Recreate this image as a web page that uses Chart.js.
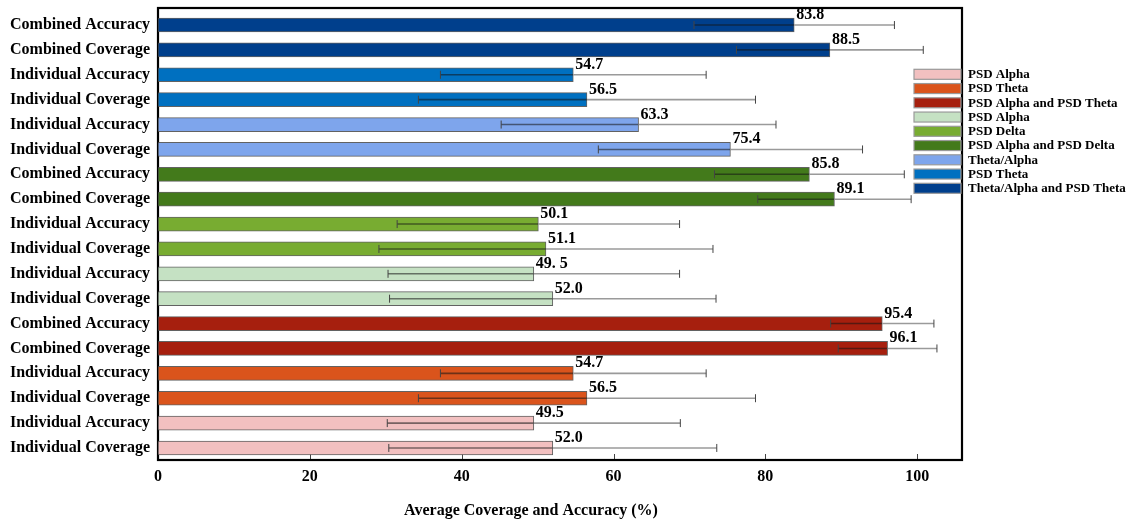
<!DOCTYPE html>
<html>
<head>
<meta charset="utf-8">
<script src="https://cdn.jsdelivr.net/npm/chart.js@4.4.0/dist/chart.umd.min.js"></script>
<style>
  body { margin: 0; background: #fff; }
  #wrap { width: 1140px; height: 520px; }
</style>
</head>
<body>
<div id="wrap"><canvas id="chart" width="1140" height="520"></canvas></div>
<script>
// bars listed top to bottom
const categories = [
  'Combined Accuracy', 'Combined Coverage', 'Individual Accuracy', 'Individual Coverage',
  'Individual Accuracy', 'Individual Coverage', 'Combined Accuracy', 'Combined Coverage',
  'Individual Accuracy', 'Individual Coverage', 'Individual Accuracy', 'Individual Coverage',
  'Combined Accuracy', 'Combined Coverage', 'Individual Accuracy', 'Individual Coverage',
  'Individual Accuracy', 'Individual Coverage'
];
const values = [83.8, 88.5, 54.7, 56.5, 63.3, 75.4, 85.8, 89.1, 50.1, 51.1, 49.5, 52.0, 95.4, 96.1, 54.7, 56.5, 49.5, 52.0];
const errors = [13.2, 12.3, 17.5, 22.2, 18.1, 17.4, 12.5, 10.1, 18.6, 22.0, 19.2, 21.5, 6.8, 6.5, 17.5, 22.2, 19.3, 21.6];
const valueLabels = ['83.8', '88.5', '54.7', '56.5', '63.3', '75.4', '85.8', '89.1', '50.1', '51.1', '49. 5', '52.0', '95.4', '96.1', '54.7', '56.5', '49.5', '52.0'];
const barSeries = [8, 8, 7, 7, 6, 6, 5, 5, 4, 4, 3, 3, 2, 2, 1, 1, 0, 0];

// legend order
const seriesNames = [
  'PSD Alpha', 'PSD Theta', 'PSD Alpha and PSD Theta',
  'PSD Alpha', 'PSD Delta', 'PSD Alpha and PSD Delta',
  'Theta/Alpha', 'PSD Theta', 'Theta/Alpha and PSD Theta'
];
const seriesColors = ['#f2c0c0', '#da541c', '#a61f0e', '#c5e1c3', '#78ac31', '#437a1b', '#7ea5ec', '#0070c0', '#003f8c'];

const xTicks = [0, 20, 40, 60, 80, 100];

const FONT = "'Liberation Serif', 'Times New Roman', serif";

const datasets = seriesNames.map((name, s) => ({
  label: name,
  data: values.map((v, i) => barSeries[i] === s ? v : null),
  backgroundColor: seriesColors[s],
  borderColor: 'rgba(70,70,70,0.85)',
  borderWidth: 1,
  borderSkipped: false,
  barThickness: 14,
  grouped: false
}));

const decorations = {
  id: 'decorations',
  beforeDatasetsDraw(chart) {
    const ctx = chart.ctx;
    const xs = chart.scales.x;
    const area = chart.chartArea;
    const top = 8, bottom = 460;
    ctx.save();

    // tick marks inside the frame
    ctx.strokeStyle = '#444';
    ctx.lineWidth = 1;
    xTicks.forEach(t => {
      const x = Math.round(xs.getPixelForValue(t)) + 0.5;
      ctx.beginPath(); ctx.moveTo(x, bottom); ctx.lineTo(x, bottom - 6); ctx.stroke();
    });

    // frame
    ctx.strokeStyle = '#000';
    ctx.lineWidth = 2.2;
    ctx.strokeRect(area.left, top, area.right - area.left, bottom - top);
    ctx.restore();
  },
  afterDatasetsDraw(chart) {
    const ctx = chart.ctx;
    const xs = chart.scales.x;

    // error bars: darker where they cross the bar, grey outside
    chart.data.datasets.forEach((ds, di) => {
      const meta = chart.getDatasetMeta(di);
      ds.data.forEach((v, i) => {
        if (v === null) return;
        const el = meta.data[i];
        const y = el.y;
        const xl = xs.getPixelForValue(v - errors[i]);
        const xr = xs.getPixelForValue(v + errors[i]);
        const xv = xs.getPixelForValue(v);
        ctx.save();
        ctx.lineWidth = 1.6;
        ctx.strokeStyle = 'rgba(20,20,20,0.55)';
        ctx.beginPath(); ctx.moveTo(xl, y); ctx.lineTo(xv, y); ctx.stroke();
        ctx.strokeStyle = '#9a9a9a';
        ctx.beginPath(); ctx.moveTo(xv, y); ctx.lineTo(xr, y); ctx.stroke();
        ctx.lineWidth = 1;
        ctx.strokeStyle = '#444';
        ctx.beginPath();
        ctx.moveTo(xl, y - 4); ctx.lineTo(xl, y + 4);
        ctx.moveTo(xr, y - 4); ctx.lineTo(xr, y + 4);
        ctx.stroke();

        ctx.fillStyle = '#000';
        ctx.font = 'bold 16px ' + FONT;
        ctx.textAlign = 'left';
        ctx.textBaseline = 'alphabetic';
        ctx.fillText(valueLabels[i], xv + 2, y - 6);
        ctx.restore();
      });
    });
  },
  afterDraw(chart) {
    const ctx = chart.ctx;
    ctx.save();

    // legend
    ctx.font = 'bold 13px ' + FONT;
    ctx.textAlign = 'left';
    ctx.textBaseline = 'middle';
    seriesNames.forEach((name, s) => {
      const y = 69.3 + s * 14.25;
      ctx.fillStyle = seriesColors[s];
      ctx.fillRect(914, y, 47, 10);
      ctx.strokeStyle = '#9a9a9a';
      ctx.lineWidth = 1.2;
      ctx.strokeRect(914, y, 47, 10);
      ctx.fillStyle = '#000';
      ctx.fillText(name, 968, y + 5.5);
    });

    // axis title
    ctx.font = 'bold 16px ' + FONT;
    ctx.textAlign = 'center';
    ctx.fillText('Average Coverage and Accuracy (%)', 531, 511);
    ctx.restore();
  }
};

new Chart(document.getElementById('chart').getContext('2d'), {
  type: 'bar',
  data: { labels: categories, datasets: datasets },
  options: {
    indexAxis: 'y',
    responsive: false,
    maintainAspectRatio: false,
    animation: false,
    layout: { padding: { top: 12.6, right: 178, bottom: 0, left: 0 } },
    plugins: { legend: { display: false }, tooltip: { enabled: false } },
    scales: {
      x: {
        type: 'linear',
        min: 0,
        max: 105.9,
        grid: { display: false, drawTicks: false },
        border: { display: false },
        afterFit: s => { s.height = 59.6; s.paddingLeft = 0; s.paddingRight = 0; },
        afterBuildTicks: s => { s.ticks = xTicks.map(v => ({ value: v })); },
        ticks: { color: '#000', padding: 7, font: { family: FONT, size: 16, weight: 'bold' } }
      },
      y: {
        type: 'category',
        offset: true,
        grid: { display: false, drawTicks: false },
        border: { display: false },
        afterFit: s => { s.width = 158; s.paddingTop = 0; s.paddingBottom = 0; },
        ticks: { color: '#000', padding: 8, font: { family: FONT, size: 16, weight: 'bold' } }
      }
    }
  },
  plugins: [decorations]
});
</script>
</body>
</html>
